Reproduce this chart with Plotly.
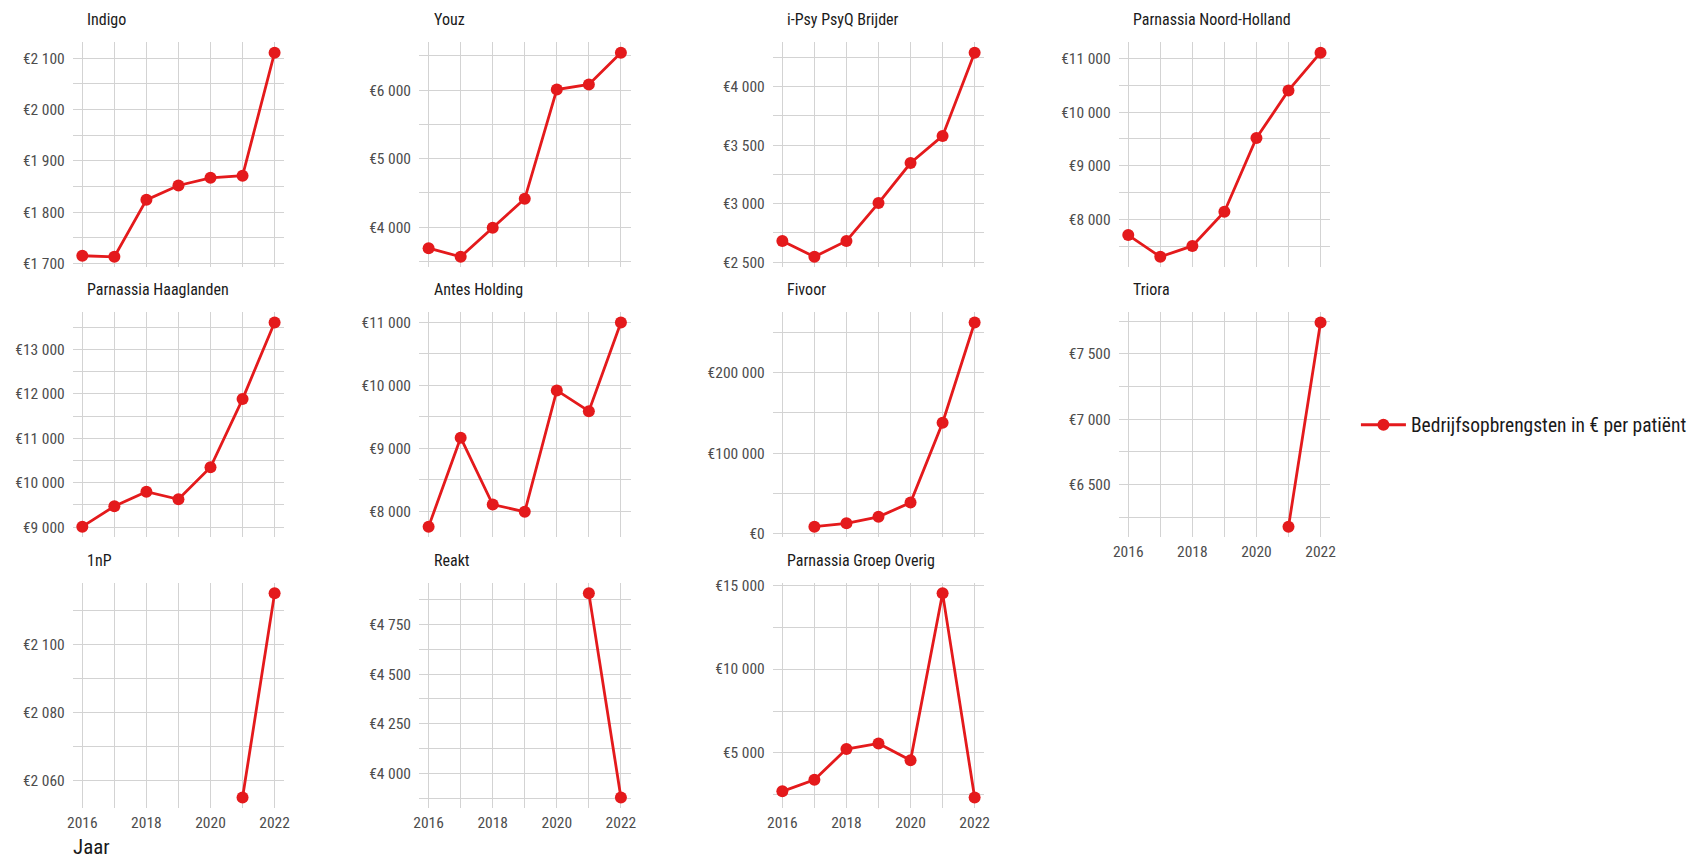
import plotly.graph_objects as go

years = [2016, 2017, 2018, 2019, 2020, 2021, 2022]
x_tick_labels = ["2016", "2018", "2020", "2022"]
panels = ["Indigo", "Youz", "i-Psy PsyQ Brijder", "Parnassia Noord-Holland",
          "Parnassia Haaglanden", "Antes Holding", "Fivoor", "Triora",
          "1nP", "Reakt", "Parnassia Groep Overig"]

indigo = [1715, 1713, 1824, 1852, 1867, 1871, 2111]
youz = [3693, 3567, 3991, 4414, 6010, 6083, 6548]
ipsy = [2681, 2546, 2681, 3005, 3347, 3579, 4290]
pnh = [7706, 7301, 7504, 8141, 9517, 10406, 11110]
haaglanden = [9010, 9470, 9798, 9627, 10348, 11882, 13607]
antes = [7754, 9166, 8105, 7990, 9917, 9587, 10995]
fivoor = [None, 8900, 13000, 21100, 38700, 137800, 262000]
triora = [None, None, None, None, None, 6177, 7741]
onep = [None, None, None, None, None, 2055, 2115]
reakt = [None, None, None, None, None, 4907, 3878]
overig = [2716, 3406, 5236, 5567, 4563, 14510, 2350]

series = [indigo, youz, ipsy, pnh, haaglanden, antes, fivoor, triora, onep, reakt, overig]
dticks = [100, 1000, 500, 1000, 1000, 1000, 100000, 500, 20, 250, 5000]
legend_name = "Bedrijfsopbrengsten in € per patiënt"

W, H = 1692, 858
col_left = [67.3, 416.7, 773.6, 1122.6]
panel_w = 213.4
row_top = [36, 310, 585]
panel_h = 228
red = "#E41A1C"
grid = "#D3D3D3"
font_family = "Roboto Condensed, Liberation Sans Narrow, Roboto, sans-serif"

show_x = {7, 8, 9, 10}

fig = go.Figure()
layout = dict(
    width=W, height=H, margin=dict(l=0, r=0, t=0, b=0),
    paper_bgcolor="white", plot_bgcolor="white",
    separators=", ",
    font=dict(family=font_family, size=15.5, color="#4D4D4D"),
    showlegend=True,
    legend=dict(x=1362 / W, y=1 - 424.5 / H, xanchor="left", yanchor="middle",
                itemwidth=45,
                font=dict(size=19.5, color="#1A1A1A"), bgcolor="rgba(0,0,0,0)"),
)
annotations = []

for i, (name, vals) in enumerate(zip(panels, series)):
    r, c = divmod(i, 4)
    n = i + 1
    xa = "xaxis" if n == 1 else f"xaxis{n}"
    ya = "yaxis" if n == 1 else f"yaxis{n}"
    xref = "x" if n == 1 else f"x{n}"
    yref = "y" if n == 1 else f"y{n}"
    x0 = col_left[c] / W
    x1 = (col_left[c] + panel_w) / W
    y1 = 1 - row_top[r] / H
    y0 = 1 - (row_top[r] + panel_h) / H
    valid = [v for v in vals if v is not None]
    lo, hi = min(valid), max(valid)
    span = hi - lo
    layout[xa] = dict(
        domain=[x0, x1], anchor=yref, range=[2015.7, 2022.3],
        tickmode="array", tickvals=[int(t) for t in x_tick_labels], ticktext=x_tick_labels,
        showticklabels=(i in show_x), showgrid=True, gridcolor=grid, gridwidth=1,
        zeroline=False, showline=False, ticks="", ticklabelstandoff=4,
        minor=dict(tickvals=[2017, 2019, 2021], showgrid=True, gridcolor=grid, gridwidth=0.9),
    )
    layout[ya] = dict(
        domain=[y0, y1], anchor=xref, range=[lo - 0.05 * span, hi + 0.05 * span],
        tick0=0, dtick=dticks[i], tickprefix="€", tickformat=",d",
        showgrid=True, gridcolor=grid, gridwidth=1, zeroline=False, showline=False,
        ticks="", ticklabelstandoff=7,
        minor=dict(tick0=dticks[i] / 2, dtick=dticks[i], showgrid=True, gridcolor=grid, gridwidth=0.9),
    )
    fig.add_trace(go.Scatter(
        x=years, y=vals, mode="lines+markers", name=legend_name,
        line=dict(color=red, width=2.8), marker=dict(color=red, size=12),
        connectgaps=False, showlegend=(i == 0), legendgroup="a",
        xaxis=xref, yaxis=yref,
    ))
    annotations.append(dict(
        text=name, xref="paper", yref="paper",
        x=(col_left[c] + 12.7) / W, y=1 - (row_top[r] - 23) / H,
        xanchor="left", yanchor="middle", showarrow=False,
        font=dict(size=16, color="#1A1A1A", family=font_family),
    ))

annotations.append(dict(
    text="Jaar", xref="paper", yref="paper", x=66 / W, y=1 - 853 / H,
    xanchor="left", yanchor="middle", showarrow=False,
    font=dict(size=21, color="#1A1A1A", family=font_family),
))
layout["annotations"] = annotations
fig.update_layout(**layout)
fig.write_html("out.html", config={"displayModeBar": False},
               post_script="document.body.style.margin='0px';document.body.style.overflow='hidden';")
